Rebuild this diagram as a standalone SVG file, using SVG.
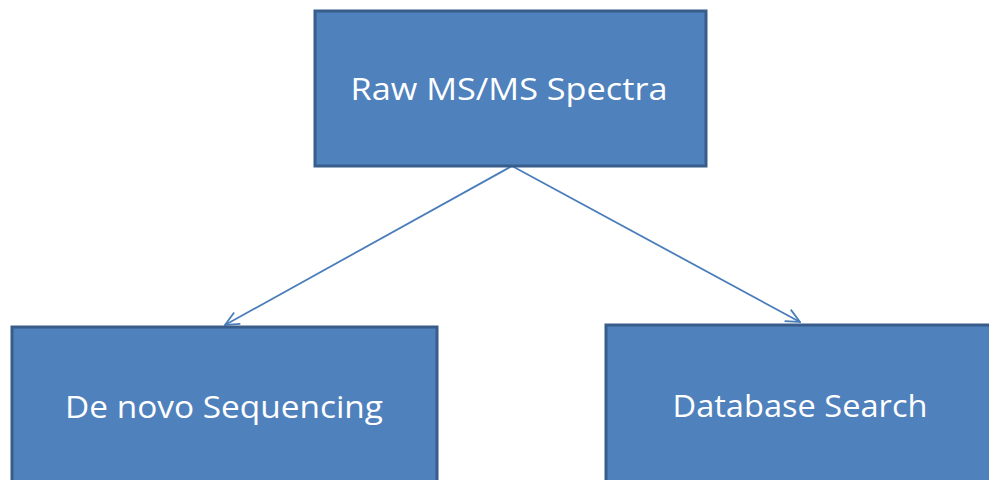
<svg xmlns="http://www.w3.org/2000/svg" width="989" height="480" viewBox="0 0 989 480">
  <style>
    .box { fill: #4f81bd; stroke: #385d8a; stroke-width: 3; }
    .label { fill: #ffffff; font-family: "Open Sans", "Liberation Sans", sans-serif; font-size: 31px; text-anchor: middle; }
    .link { fill: none; stroke: #4a7ebb; stroke-width: 1.8; }
  </style>
  <defs>
    <marker id="open-arrow" viewBox="0 0 16 16" refX="15" refY="8" markerWidth="16" markerHeight="16" markerUnits="userSpaceOnUse" orient="auto">
      <path d="M1,1.5 L15,8 L1,14.5" fill="none" stroke="#4a7ebb" stroke-width="1.8"/>
    </marker>
  </defs>

  <g id="connectors">
    <line class="link" x1="512" y1="166" x2="225" y2="325" marker-end="url(#open-arrow)"/>
    <line class="link" x1="512" y1="166" x2="800" y2="322" marker-end="url(#open-arrow)"/>
  </g>

  <g id="raw-spectra">
    <rect class="box" x="315" y="11" width="391" height="155"/>
    <text class="label" x="509" y="100" textLength="317" lengthAdjust="spacingAndGlyphs">Raw MS/MS Spectra</text>
  </g>

  <g id="de-novo">
    <rect class="box" x="12" y="327" width="425" height="170"/>
    <text class="label" x="224" y="418" textLength="318" lengthAdjust="spacingAndGlyphs">De novo Sequencing</text>
  </g>

  <g id="database-search">
    <rect class="box" x="606" y="325" width="392" height="170"/>
    <text class="label" x="800" y="417" textLength="255" lengthAdjust="spacingAndGlyphs">Database Search</text>
  </g>
</svg>
